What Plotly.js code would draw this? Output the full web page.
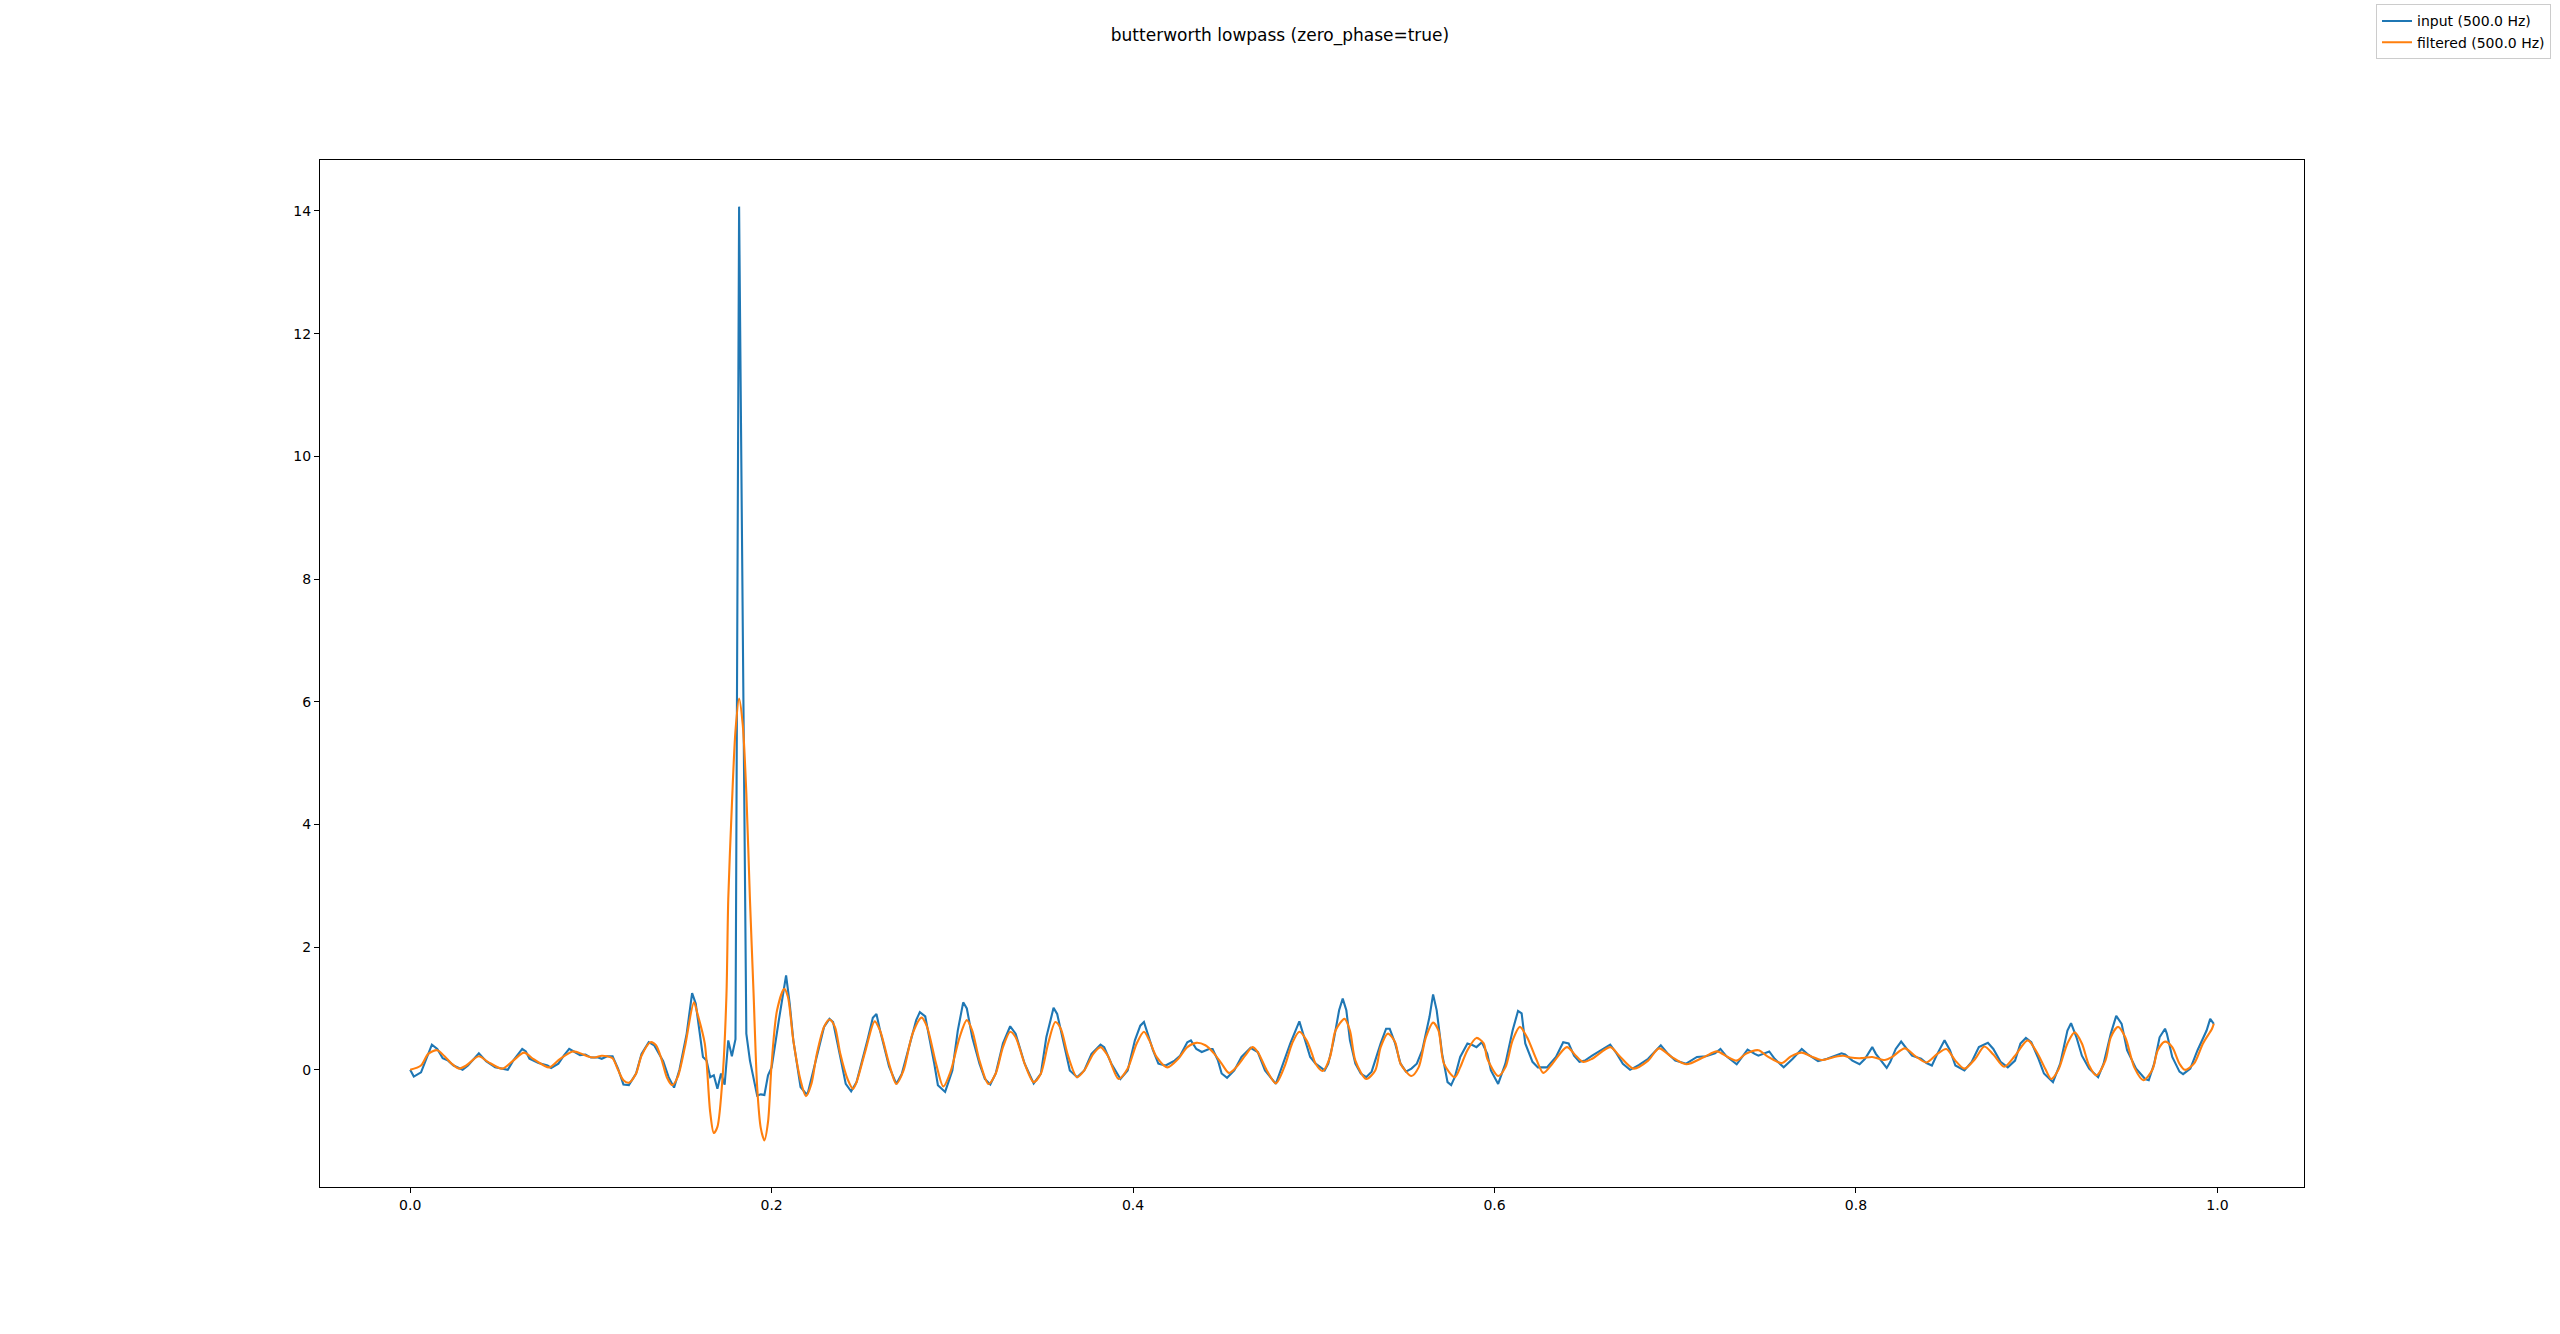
<!DOCTYPE html>
<html>
<head>
<meta charset="utf-8">
<script src="https://cdn.plot.ly/plotly-3.0.1.min.js"></script>
<style>html,body{margin:0;padding:0;background:#fff;}#chart{width:2560px;height:1334px;}</style>
</head>
<body>
<div id="chart"></div>
<script>
const chartTitle = "butterworth lowpass (zero_phase=true)";
const inputName = "input (500.0 Hz)";
const filteredName = "filtered (500.0 Hz)";

const inputTime = [0.000,0.002,0.006,0.012,0.015,0.018,0.021,0.024,0.029,0.032,0.038,0.042,0.047,0.054,0.057,0.062,0.064,0.066,0.071,0.076,0.078,0.082,0.085,0.088,0.091,0.094,0.097,0.100,0.104,0.106,0.109,0.112,0.115,0.118,0.121,0.125,0.128,0.132,0.135,0.137,0.140,0.143,0.146,0.149,0.153,0.156,0.158,0.162,0.164,0.166,0.168,0.170,0.172,0.174,0.176,0.178,0.180,0.182,0.186,0.188,0.190,0.192,0.194,0.196,0.198,0.200,0.204,0.208,0.210,0.212,0.216,0.219,0.220,0.224,0.229,0.232,0.234,0.238,0.241,0.244,0.247,0.253,0.256,0.258,0.260,0.265,0.269,0.272,0.278,0.280,0.282,0.285,0.290,0.292,0.296,0.300,0.303,0.306,0.308,0.311,0.315,0.318,0.321,0.324,0.328,0.332,0.335,0.340,0.345,0.349,0.352,0.356,0.358,0.362,0.365,0.369,0.373,0.377,0.382,0.384,0.388,0.393,0.397,0.401,0.404,0.406,0.408,0.411,0.414,0.418,0.423,0.426,0.430,0.432,0.435,0.438,0.442,0.444,0.447,0.449,0.452,0.456,0.460,0.465,0.469,0.473,0.479,0.483,0.487,0.492,0.495,0.498,0.501,0.504,0.506,0.508,0.511,0.514,0.516,0.518,0.520,0.523,0.526,0.529,0.532,0.537,0.540,0.542,0.545,0.548,0.551,0.554,0.557,0.560,0.564,0.566,0.568,0.571,0.574,0.576,0.578,0.581,0.585,0.588,0.590,0.593,0.596,0.598,0.602,0.606,0.610,0.613,0.615,0.617,0.621,0.624,0.629,0.634,0.638,0.641,0.644,0.647,0.650,0.654,0.659,0.664,0.667,0.671,0.675,0.680,0.685,0.692,0.696,0.700,0.706,0.712,0.717,0.722,0.725,0.728,0.734,0.737,0.740,0.744,0.746,0.752,0.755,0.760,0.765,0.770,0.773,0.779,0.784,0.792,0.794,0.798,0.802,0.805,0.809,0.811,0.817,0.819,0.822,0.825,0.828,0.831,0.836,0.839,0.842,0.845,0.849,0.852,0.855,0.860,0.864,0.868,0.873,0.876,0.880,0.884,0.888,0.891,0.894,0.897,0.901,0.904,0.909,0.913,0.917,0.919,0.922,0.925,0.929,0.934,0.937,0.941,0.944,0.947,0.950,0.955,0.960,0.962,0.965,0.968,0.971,0.972,0.975,0.979,0.981,0.985,0.989,0.994,0.996,0.998];
const inputValue = [0.00,-0.11,-0.04,0.41,0.34,0.19,0.15,0.07,0.00,0.07,0.27,0.14,0.04,0.00,0.15,0.34,0.30,0.18,0.11,0.07,0.03,0.10,0.23,0.34,0.29,0.24,0.25,0.20,0.20,0.18,0.22,0.22,0.02,-0.24,-0.25,-0.06,0.26,0.45,0.40,0.29,0.14,-0.12,-0.29,0.00,0.59,1.25,1.08,0.21,0.15,-0.12,-0.09,-0.31,-0.06,-0.24,0.48,0.22,0.50,14.07,0.59,0.15,-0.12,-0.42,-0.40,-0.41,-0.09,0.04,0.81,1.54,1.08,0.48,-0.28,-0.39,-0.38,0.10,0.70,0.83,0.78,0.21,-0.23,-0.35,-0.20,0.48,0.85,0.91,0.64,0.05,-0.23,-0.07,0.59,0.81,0.94,0.87,0.10,-0.25,-0.36,-0.01,0.64,1.10,1.00,0.53,0.10,-0.15,-0.24,-0.06,0.43,0.71,0.59,0.10,-0.22,-0.06,0.53,1.01,0.91,0.37,-0.01,-0.12,-0.01,0.26,0.41,0.37,0.10,-0.15,-0.01,0.48,0.72,0.78,0.59,0.32,0.10,0.07,0.15,0.23,0.45,0.48,0.34,0.29,0.34,0.34,0.15,-0.06,-0.13,-0.01,0.21,0.36,0.29,-0.01,-0.23,0.10,0.43,0.79,0.48,0.21,0.10,0.04,-0.01,0.10,0.48,0.97,1.16,0.97,0.48,0.10,-0.06,-0.12,-0.03,0.43,0.67,0.67,0.43,0.10,-0.03,0.02,0.10,0.32,0.86,1.23,0.97,0.26,-0.20,-0.25,-0.12,0.21,0.43,0.40,0.37,0.45,0.26,-0.01,-0.23,0.10,0.64,0.96,0.92,0.43,0.13,0.04,0.04,0.21,0.45,0.43,0.23,0.13,0.15,0.23,0.32,0.41,0.29,0.10,0.00,0.08,0.18,0.40,0.26,0.15,0.10,0.21,0.22,0.27,0.34,0.23,0.09,0.21,0.33,0.26,0.23,0.30,0.18,0.04,0.18,0.34,0.26,0.14,0.18,0.27,0.25,0.15,0.09,0.18,0.37,0.26,0.03,0.13,0.34,0.46,0.34,0.23,0.18,0.11,0.07,0.26,0.48,0.32,0.07,-0.01,0.13,0.37,0.44,0.34,0.13,0.04,0.15,0.43,0.52,0.45,0.18,-0.06,-0.20,0.10,0.64,0.76,0.53,0.23,0.02,-0.12,0.10,0.59,0.88,0.75,0.32,0.02,-0.15,-0.17,0.10,0.53,0.67,0.59,0.21,-0.03,-0.07,0.02,0.32,0.64,0.83,0.75];

const filteredTime = [0.000,0.006,0.010,0.015,0.019,0.023,0.027,0.031,0.038,0.043,0.051,0.057,0.063,0.068,0.074,0.077,0.083,0.090,0.095,0.098,0.102,0.106,0.109,0.112,0.115,0.118,0.121,0.125,0.128,0.133,0.136,0.139,0.142,0.145,0.148,0.152,0.157,0.159,0.163,0.166,0.168,0.170,0.173,0.175,0.176,0.178,0.180,0.182,0.184,0.186,0.188,0.190,0.192,0.194,0.196,0.198,0.200,0.203,0.207,0.209,0.212,0.216,0.219,0.222,0.225,0.229,0.232,0.235,0.238,0.242,0.245,0.247,0.252,0.257,0.260,0.265,0.269,0.273,0.278,0.283,0.286,0.291,0.295,0.299,0.304,0.308,0.311,0.315,0.320,0.324,0.328,0.332,0.335,0.340,0.345,0.349,0.353,0.357,0.360,0.364,0.369,0.373,0.378,0.382,0.386,0.392,0.397,0.402,0.406,0.409,0.413,0.419,0.425,0.430,0.435,0.440,0.445,0.449,0.453,0.457,0.462,0.466,0.469,0.474,0.479,0.484,0.488,0.492,0.496,0.499,0.501,0.505,0.509,0.512,0.517,0.520,0.523,0.529,0.534,0.537,0.541,0.545,0.548,0.554,0.558,0.562,0.566,0.569,0.572,0.578,0.581,0.585,0.590,0.594,0.596,0.602,0.606,0.610,0.614,0.618,0.623,0.627,0.632,0.640,0.645,0.649,0.654,0.664,0.669,0.677,0.685,0.691,0.698,0.706,0.716,0.723,0.729,0.734,0.739,0.746,0.751,0.759,0.764,0.770,0.775,0.781,0.788,0.793,0.797,0.803,0.809,0.816,0.820,0.827,0.833,0.839,0.845,0.850,0.855,0.860,0.866,0.871,0.876,0.882,0.888,0.895,0.900,0.905,0.908,0.912,0.917,0.921,0.925,0.929,0.933,0.938,0.941,0.945,0.949,0.954,0.959,0.964,0.967,0.971,0.975,0.979,0.982,0.987,0.992,0.997,0.998];
const filteredValue = [0.00,0.07,0.26,0.32,0.22,0.10,0.02,0.07,0.22,0.13,0.02,0.15,0.28,0.18,0.07,0.04,0.18,0.30,0.26,0.22,0.20,0.23,0.22,0.19,0.00,-0.17,-0.21,-0.06,0.23,0.45,0.40,0.18,-0.12,-0.25,-0.12,0.37,1.10,0.91,0.43,-0.69,-1.03,-0.93,-0.06,1.22,2.78,4.31,5.53,6.05,5.63,4.51,2.78,1.25,-0.28,-0.95,-1.15,-0.85,0.10,0.97,1.32,1.19,0.48,-0.17,-0.43,-0.23,0.26,0.70,0.82,0.70,0.26,-0.15,-0.31,-0.20,0.32,0.79,0.64,0.10,-0.23,-0.01,0.59,0.85,0.70,0.10,-0.27,-0.03,0.53,0.81,0.64,0.15,-0.23,-0.06,0.37,0.62,0.53,0.10,-0.20,-0.06,0.43,0.78,0.67,0.23,-0.12,-0.01,0.26,0.37,0.23,-0.15,0.02,0.43,0.62,0.48,0.21,0.04,0.18,0.37,0.44,0.40,0.26,0.10,-0.05,0.04,0.23,0.37,0.29,-0.01,-0.22,0.07,0.43,0.62,0.48,0.26,0.10,-0.02,0.21,0.64,0.83,0.64,0.15,-0.15,-0.01,0.37,0.59,0.45,0.10,-0.10,0.04,0.53,0.77,0.64,0.10,-0.12,0.04,0.32,0.52,0.43,0.18,-0.10,0.04,0.48,0.70,0.53,0.18,-0.05,0.10,0.37,0.23,0.13,0.18,0.37,0.23,0.02,0.15,0.35,0.21,0.09,0.21,0.30,0.21,0.15,0.26,0.32,0.22,0.11,0.22,0.28,0.22,0.16,0.21,0.23,0.20,0.19,0.21,0.16,0.21,0.35,0.22,0.12,0.26,0.34,0.15,0.02,0.18,0.38,0.25,0.05,0.23,0.48,0.29,0.00,-0.15,0.00,0.43,0.61,0.43,0.07,-0.09,0.15,0.53,0.70,0.53,0.04,-0.17,0.00,0.32,0.46,0.37,0.10,0.00,0.10,0.43,0.67,0.75];

const xTickValues = [0.0, 0.2, 0.4, 0.6, 0.8, 1.0];
const xTickLabels = ["0.0", "0.2", "0.4", "0.6", "0.8", "1.0"];
const yTickValues = [0, 2, 4, 6, 8, 10, 12, 14];
const yTickLabels = ["0", "2", "4", "6", "8", "10", "12", "14"];

const font = "DejaVu Sans, Liberation Sans, sans-serif";

const traces = [
  {x: inputTime, y: inputValue, type: "scatter", mode: "lines", name: inputName,
   line: {color: "#1f77b4", width: 2.1}},
  {x: filteredTime, y: filteredValue, type: "scatter", mode: "lines", name: filteredName,
   line: {color: "#ff7f0e", width: 2.1, shape: "spline", smoothing: 0.8}}
];

const axisCommon = {
  showgrid: false, zeroline: false, showline: true, mirror: true,
  linecolor: "#000", linewidth: 1.1, ticks: "outside", ticklen: 5, tickwidth: 1.1,
  tickcolor: "#000", tickfont: {family: font, size: 14, color: "#000"}, automargin: false
};

const layout = {
  width: 2560, height: 1334,
  paper_bgcolor: "#fff", plot_bgcolor: "#fff",
  margin: {l: 320, r: 256, t: 160, b: 147, pad: 0, autoexpand: false},
  title: {text: chartTitle, font: {family: font, size: 17, color: "#000"},
          x: 0.5, xref: "container", xanchor: "center", y: 1 - 35/1334, yref: "container", yanchor: "middle"},
  xaxis: Object.assign({}, axisCommon, {range: [-0.0499, 1.0479], tickvals: xTickValues, ticktext: xTickLabels}),
  yaxis: Object.assign({}, axisCommon, {range: [-1.91, 14.83], tickvals: yTickValues, ticktext: yTickLabels}),
  showlegend: true,
  legend: {x: 1.1245, xanchor: "right", y: 1.1515, yanchor: "top", bgcolor: "#fff",
           bordercolor: "#cccccc", borderwidth: 1, font: {family: font, size: 14, color: "#000"},
           tracegroupgap: 0, itemwidth: 30}
};

Plotly.newPlot("chart", traces, layout, {displayModeBar: false, responsive: false});
</script>
</body>
</html>
